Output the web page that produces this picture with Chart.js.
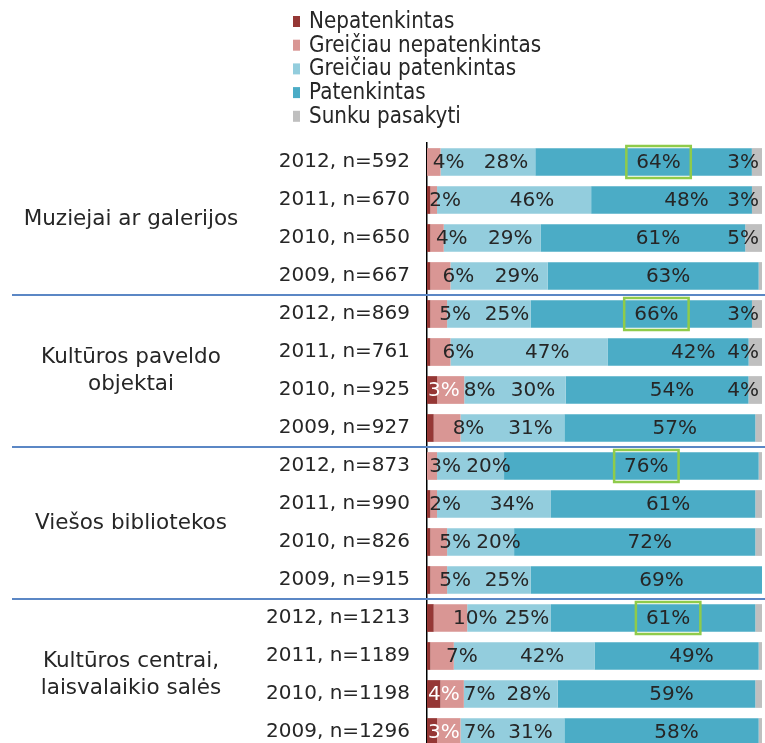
<!DOCTYPE html>
<html lang="lt">
<head>
<meta charset="utf-8">
<title>Pasitenkinimas kultūros įstaigomis</title>
<script src="https://cdn.jsdelivr.net/npm/chart.js@4.4.1/dist/chart.umd.min.js"></script>
<style>
    html, body { margin: 0; padding: 0; background: #fff; overflow: hidden; height: 743px; }
    #wrap { position: relative; width: 765px; height: 743px; overflow: hidden; }
    canvas { display: block; }
</style>
</head>
<body>
<div id="wrap"><canvas id="chartPasitenkinimas" width="765" height="751"></canvas></div>
<script>
// Duomenys
const rowLabels = [
    '2012, n=592', '2011, n=670', '2010, n=650', '2009, n=667',
    '2012, n=869', '2011, n=761', '2010, n=925', '2009, n=927',
    '2012, n=873', '2011, n=990', '2010, n=826', '2009, n=915',
    '2012, n=1213', '2011, n=1189', '2010, n=1198', '2009, n=1296'
];
const groupNames = [
    ['Muziejai ar galerijos'],
    ['Kultūros paveldo', 'objektai'],
    ['Viešos bibliotekos'],
    ['Kultūros centrai,', 'laisvalaikio salės']
];
const rowsPerGroup = 4;
const highlightYear = '2012';

const seriesNames = ['Nepatenkintas', 'Greičiau nepatenkintas', 'Greičiau patenkintas', 'Patenkintas', 'Sunku pasakyti'];
const nepatenkintas          = [0, 1, 1, 1,  1, 1, 3, 2,  0, 1, 1, 1,  2, 1, 4, 3];
const greiciauNepatenkintas  = [4, 2, 4, 6,  5, 6, 8, 8,  3, 2, 5, 5,  10, 7, 7, 7];
const greiciauPatenkintas    = [28, 46, 29, 29,  25, 47, 30, 31,  20, 34, 20, 25,  25, 42, 28, 31];
const patenkintas            = [64, 48, 61, 63,  66, 42, 54, 57,  76, 61, 72, 69,  61, 49, 59, 58];
const sunkuPasakyti          = [3, 3, 5, 1,  3, 4, 4, 2,  1, 2, 2, 0,  2, 1, 2, 1];

const seriesValues = [nepatenkintas, greiciauNepatenkintas, greiciauPatenkintas, patenkintas, sunkuPasakyti];

const chartColors = {
    nepatenkintas: '#953735',
    greiciauNepatenkintas: '#D99694',
    greiciauPatenkintas: '#93CDDD',
    patenkintas: '#4BACC6',
    sunku: '#BFBFBF',
    text: '#262626',
    separator: '#5B87C5',
    highlight: '#8FCB4A'
};
const seriesColors = [chartColors.nepatenkintas, chartColors.greiciauNepatenkintas,
    chartColors.greiciauPatenkintas, chartColors.patenkintas, chartColors.sunku];

// 100% sukrauta juosta
const rowTotals = rowLabels.map((_, r) => seriesValues.reduce((s, arr) => s + arr[r], 0));
function toShare(arr) {
    return arr.map((v, r) => v / rowTotals[r] * 100);
}

const FONT = '"DejaVu Sans", Verdana, sans-serif';

// Reikšmių etiketės
const segmentLabels = {
    id: 'segmentLabels',
    afterDatasetsDraw(chart) {
        const ctx = chart.ctx;
        ctx.save();
        ctx.font = '20px ' + FONT;
        ctx.textBaseline = 'middle';
        ctx.textAlign = 'left';
        for (let r = 0; r < rowLabels.length; r++) {
            let prevRight = -Infinity;
            chart.data.datasets.forEach((ds, i) => {
                const bar = chart.getDatasetMeta(i).data[r];
                const v = seriesValues[i][r];
                if (!bar || v < ds.minLabel) return;
                const txt = v + '%';
                const w = ctx.measureText(txt).width;
                const s = Math.min(bar.base, bar.x);
                const e = Math.max(bar.base, bar.x);
                let left;
                if (ds.labelPos === 'start') left = s + 1;
                else if (ds.labelPos === 'after') left = e + 8 - w / 2;
                else if (ds.labelPos === 'end') left = e - 3 - w;
                else left = (s + e) / 2 + ds.labelShift - w / 2;
                left = Math.max(left, prevRight + 4);
                prevRight = left + w;
                ctx.fillStyle = ds.labelColor;
                ctx.fillText(txt, left, bar.y + 1);
                if (i === 3 && rowLabels[r].startsWith(highlightYear)) {
                    ctx.strokeStyle = chartColors.highlight;
                    ctx.lineWidth = 2.5;
                    ctx.strokeRect(left - 10, bar.y - 16, w + 20, 32);
                }
            });
        }
        ctx.restore();
    }
};

// Grupės ir skirtukai
const groupLabels = {
    id: 'groupLabels',
    afterDraw(chart) {
        const ctx = chart.ctx;
        const y = chart.scales.y;
        ctx.save();
        ctx.strokeStyle = chartColors.separator;
        ctx.lineWidth = 1.8;
        for (let g = 1; g < groupNames.length; g++) {
            const yy = (y.getPixelForValue(g * rowsPerGroup - 1) + y.getPixelForValue(g * rowsPerGroup)) / 2;
            ctx.beginPath();
            ctx.moveTo(12, yy);
            ctx.lineTo(chart.width, yy);
            ctx.stroke();
        }
        ctx.font = '21.5px ' + FONT;
        ctx.fillStyle = chartColors.text;
        ctx.textAlign = 'center';
        ctx.textBaseline = 'middle';
        groupNames.forEach((lines, g) => {
            const cy = (y.getPixelForValue(g * rowsPerGroup) + y.getPixelForValue(g * rowsPerGroup + rowsPerGroup - 1)) / 2;
            const lh = 27;
            lines.forEach((line, k) => {
                ctx.fillText(line, 131, cy + (k - (lines.length - 1) / 2) * lh);
            });
        });
        ctx.restore();
    }
};

// Legenda
const verticalLegend = {
    id: 'verticalLegend',
    afterDraw(chart) {
        const ctx = chart.ctx;
        ctx.save();
        ctx.textBaseline = 'middle';
        ctx.textAlign = 'left';
        seriesNames.forEach((name, i) => {
            const yy = 21 + i * 23.7;
            ctx.fillStyle = seriesColors[i];
            ctx.fillRect(293, yy - 5, 7, 11);
            ctx.save();
            ctx.translate(309, yy + 1);
            ctx.scale(1, 1.12);
            ctx.font = '20px ' + FONT;
            ctx.fillStyle = chartColors.text;
            ctx.fillText(name, 0, 0);
            ctx.restore();
        });
        ctx.restore();
    }
};

function criarGrafico() {
    const canvas = document.getElementById('chartPasitenkinimas');
    if (!canvas) return;
    const labelSetup = [
        { labelPos: 'start', labelShift: 0, minLabel: 3, labelColor: '#ffffff' },
        { labelPos: 'after', labelShift: 0, minLabel: 0, labelColor: chartColors.text },
        { labelPos: 'center', labelShift: 18, minLabel: 0, labelColor: chartColors.text },
        { labelPos: 'center', labelShift: 15, minLabel: 0, labelColor: chartColors.text },
        { labelPos: 'end', labelShift: 0, minLabel: 3, labelColor: chartColors.text }
    ];
    try {
        new Chart(canvas, {
            type: 'bar',
            data: {
                labels: rowLabels,
                datasets: seriesValues.map((arr, i) => Object.assign({
                    label: seriesNames[i],
                    data: toShare(arr),
                    backgroundColor: seriesColors[i],
                    borderWidth: 0,
                    barPercentage: 0.73,
                    categoryPercentage: 1
                }, labelSetup[i]))
            },
            options: {
                indexAxis: 'y',
                responsive: false,
                maintainAspectRatio: false,
                animation: false,
                devicePixelRatio: 1,
                // canvas is a bit taller than the page: the last row is cut, as in the source image
                layout: { padding: { top: 143, right: 3, bottom: 0, left: 0 } },
                plugins: {
                    legend: { display: false },
                    tooltip: { enabled: false }
                },
                scales: {
                    x: { stacked: true, min: 0, max: 100, display: false },
                    y: {
                        stacked: true,
                        grid: { display: false, drawTicks: false },
                        border: { display: true, color: '#000000', width: 1.5 },
                        ticks: {
                            color: chartColors.text,
                            font: { size: 20, family: FONT },
                            padding: 17
                        },
                        afterFit(scale) {
                            scale.width = 427;
                            scale.paddingTop = 0;
                            scale.paddingBottom = 0;
                        }
                    }
                }
            },
            plugins: [segmentLabels, groupLabels, verticalLegend]
        });
    } catch (error) {
        console.error('Klaida kuriant grafiką:', error);
    }
}
criarGrafico();
</script>
</body>
</html>
